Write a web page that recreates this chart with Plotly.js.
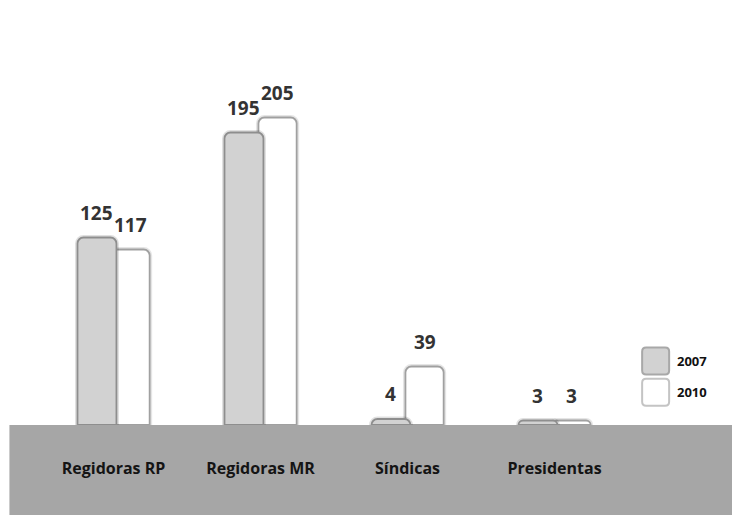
<!DOCTYPE html>
<html>
<head>
<meta charset="utf-8">
<script src="https://cdn.plot.ly/plotly-3.0.1.min.js"></script>
<style>html,body{margin:0;padding:0;background:#fff;}#chart{width:732px;height:515px;}</style>
</head>
<body>
<div id="chart"></div>
<script>
const categories = ["Regidoras RP", "Regidoras MR", "Síndicas", "Presidentas"];
const years = ["2007", "2010"];
const values2007 = [125, 195, 4, 3];
const values2010 = [117, 205, 39, 3];

const idx = categories.map((c, i) => i);
const W = 0.265, OFF07 = -0.245, OFF10 = -0.014, W10 = 0.26;
const FONT = "Open Sans, DejaVu Sans, sans-serif";

function barTrace(name, vals, off, w, fill, line, lw) {
  return {
    type: "bar", name: name, x: idx, y: vals, width: w, offset: off,
    marker: {color: fill, line: {color: line, width: lw}, cornerradius: 6},
    hoverinfo: "skip", showlegend: false
  };
}
const glow2010 = barTrace(years[1], values2010, OFF10, W10, "rgba(0,0,0,0)", "rgba(0,0,0,0.10)", 5);
const trace2010 = barTrace(years[1], values2010, OFF10, W10, "#ffffff", "#a0a0a0", 1.8);
const glow2007 = barTrace(years[0], values2007, OFF07, W, "rgba(0,0,0,0)", "rgba(0,0,0,0.12)", 5);
const trace2007 = barTrace(years[0], values2007, OFF07, W, "#d2d2d2", "#8e8e8e", 1.8);

const annotations = [];
const labelFont = {family: FONT, size: 19, color: "#333333", weight: "bold"};
values2007.forEach((v, i) => annotations.push({
  x: i + OFF07 + W / 2, y: v, xref: "x", yref: "y", text: String(v),
  showarrow: false, yanchor: "bottom", yshift: 10, font: labelFont
}));
values2010.forEach((v, i) => annotations.push({
  x: i + OFF10 + W10 / 2, y: v, xref: "x", yref: "y", text: String(v),
  showarrow: false, yanchor: "bottom", yshift: 10, font: labelFont
}));

// legend (manual, with rounded swatches)
const legendFills = ["#d2d2d2", "#ffffff"];
const legendLines = ["#a8a8a8", "#c4c4c4"];
const legendY = [0.158, 0.081];
const rr = "M -9.5,-13.5 L 9.5,-13.5 Q 13.5,-13.5 13.5,-9.5 L 13.5,9.5 Q 13.5,13.5 9.5,13.5 L -9.5,13.5 Q -13.5,13.5 -13.5,9.5 L -13.5,-9.5 Q -13.5,-13.5 -9.5,-13.5 Z";
const shapes = [{
  type: "rect", xref: "paper", yref: "paper", x0: -0.052, x1: 1.2, y0: 0, y1: -0.3,
  fillcolor: "#a6a6a6", line: {width: 0}, layer: "below"
}];
years.forEach((yr, k) => {
  shapes.push({
    type: "path", xref: "paper", yref: "paper", xsizemode: "pixel", ysizemode: "pixel",
    xanchor: 1.047, yanchor: legendY[k], path: rr,
    fillcolor: legendFills[k], line: {color: legendLines[k], width: 2}
  });
  annotations.push({
    x: 1.08, y: legendY[k], xref: "paper", yref: "paper", text: yr,
    showarrow: false, xanchor: "left", yanchor: "middle",
    font: {family: FONT, size: 13, color: "#111111", weight: "bold"}
  });
});

const layout = {
  width: 732, height: 515,
  margin: {l: 40, r: 104, t: 20, b: 90},
  paper_bgcolor: "#ffffff", plot_bgcolor: "rgba(0,0,0,0)",
  barmode: "overlay",
  showlegend: false,
  xaxis: {
    range: [-0.5, 3.5], tickmode: "array", tickvals: idx, ticktext: categories,
    showgrid: false, zeroline: false, showline: false,
    ticks: "outside", ticklen: 29, tickcolor: "rgba(0,0,0,0)",
    tickfont: {family: FONT, size: 16, color: "#141414", weight: "bold"},
    fixedrange: true
  },
  yaxis: {range: [0, 270], visible: false, fixedrange: true},
  shapes: shapes,
  annotations: annotations
};

Plotly.newPlot("chart", [glow2010, trace2010, glow2007, trace2007], layout, {staticPlot: true, displayModeBar: false});
</script>
</body>
</html>
